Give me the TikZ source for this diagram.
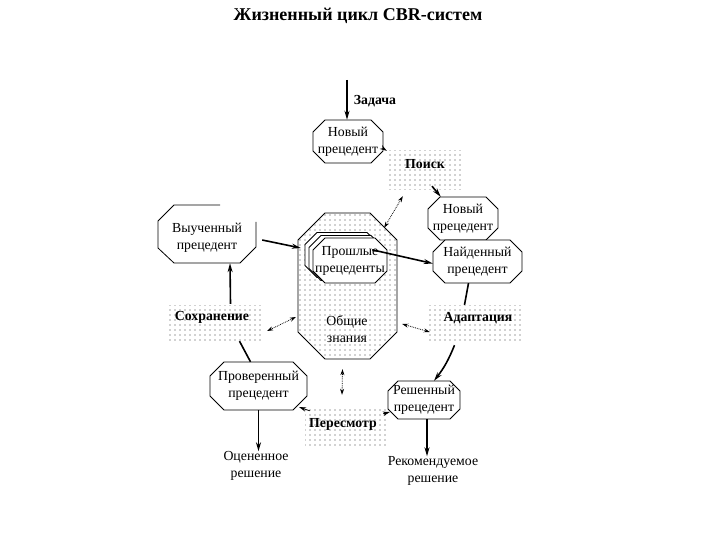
\documentclass[tikz,border=0pt]{standalone}
\usepackage{fontspec}
\setmainfont{Liberation Serif}
\usetikzlibrary{calc,arrows.meta,patterns.meta}
\tikzset{
  octline/.style={line width=0.8pt},
  lbl/.style={font=\fontsize{13.8}{17}\selectfont, align=center, inner sep=0pt},
  blbl/.style={font=\fontsize{13.8}{17}\selectfont\bfseries, inner sep=0pt},
  dotfill/.style={pattern={Dots[distance=5pt,radius=0.65pt]}, pattern color=black!75},
  dotbox/.style={dotfill, draw=none, inner sep=0pt},
  thickarr/.style={line width=1.6pt, -{Stealth[length=9pt,width=5pt]}},
  thickline/.style={line width=1.6pt},
  thinarr/.style={line width=0.8pt, -{Stealth[length=7pt,width=4.5pt]}},
  dotarr/.style={line width=0.8pt, densely dotted, {Stealth[length=6pt,width=4pt]}-{Stealth[length=6pt,width=4pt]}}
}
\newcommand\octo[7]{%
  \draw[octline,fill=white] ({#2-#4/2+#6},{#3-#5/2}) -- ({#2+#4/2-#6},{#3-#5/2}) -- ({#2+#4/2},{#3-#5/2+#6}) -- ({#2+#4/2},{#3+#5/2-#6}) -- ({#2+#4/2-#6},{#3+#5/2}) -- ({#2-#4/2+#6},{#3+#5/2}) -- ({#2-#4/2},{#3+#5/2-#6}) -- ({#2-#4/2},{#3-#5/2+#6}) -- cycle;
  \node[lbl,minimum width=#4pt,minimum height=#5pt] (#1) at (#2,#3) {#7};}
\begin{document}
\begin{tikzpicture}[x=1pt,y=-1pt]
\fill[white] (0,0) rectangle (720,540);
\useasboundingbox (0,0) rectangle (720,540);

% title
\node[font=\fontsize{18}{21}\selectfont\bfseries] (title) at (358,16) {Жизненный цикл CBR-систем};

% knowledge octagon
\draw[octline,dotfill] (325,213) -- (370,213) -- (397,240) -- (397,332) -- (370,359) -- (325,359) -- (298,332) -- (298,240) -- cycle;
\node[lbl, minimum width=99pt, minimum height=146pt] (know) at (347.5,286) {};
\node[lbl] (obshie) at (347,329) {Общие\\знания};

% past cases (stacked)
\octo{pastb}{342}{255}{74}{45}{12}{}
\octo{pastm}{346}{258}{74}{45}{12}{}
\octo{past}{350}{260.5}{74}{45}{12}{Прошлые\\прецеденты}

% dotted process boxes
\node[dotbox, minimum width=76pt, minimum height=39pt] (poisk) at (425,170.5) {};
\node[blbl] (poiskt) at (425,164) {Поиск};
\node[dotbox, minimum width=95pt, minimum height=38pt] (sohr) at (214.5,324) {};
\node[blbl] (sohrt) at (212,317) {Сохранение};
\node[dotbox, minimum width=95pt, minimum height=38pt] (adapt) at (474.5,324) {};
\node[blbl] (adaptt) at (478,318) {Адаптация};
\node[dotbox, minimum width=82pt, minimum height=37pt] (peres) at (346,426.5) {};
\node[blbl] (perest) at (343,424) {Пересмотр};

% octagon nodes
\octo{n1}{348}{141.5}{70}{43}{12}{Новый\\прецедент}
\octo{n2}{463}{218.5}{70}{43}{12}{Новый\\прецедент}
\octo{naid}{477.5}{261.5}{89}{43}{12}{Найденный\\прецедент}
\octo{prov}{258.5}{386}{97}{48}{14}{Проверенный\\прецедент}
\octo{resh}{424}{400}{72}{38}{10}{Решенный\\прецедент}

% learned case (partially drawn outline)
\draw[octline] (220,205) -- (174,205) -- (158,221) -- (158,248) -- (174,263) -- (240,263) -- (256,247) -- (256,222);
\node[lbl, minimum width=98pt, minimum height=50pt] (vyuch) at (207,238) {Выученный\\прецедент};

% input / outputs
\coordinate (zin) at (347,80);
\node[blbl] (zadacha) at (375,101) {Задача};
\node[lbl] (ocen) at (256,466) {Оцененное\\решение};
\node[lbl] (rekom) at (433,471) {Рекомендуемое\\решение};
\coordinate (rs) at ($(resh.south)+(3,0)$);

% connectors
\draw[thickarr] (zin) -- (zin |- n1.north);
\draw[thinarr] ($(n1.east)+(0,7)$) -- (poisk.north west);
\draw[thickarr] ($(poisk.south)+(7,-4)$) -- ($(n2.north west)+(13,0)$);
\draw[dotarr] ($(poisk.south west)+(16,6)$) -- ($(know.north east)+(-13,15)$);
\draw[thickarr] ($(vyuch.east)+(6,2)$) -- ($(know.west)+(3,-38)$);
\draw[thickarr] ($(past.north east)+(-15,12)$) -- ($(naid.west)+(0,2)$);
\draw[thickarr] ($(sohr.north)+(16,-1)$) -- ($(vyuch.south)+(23,0)$);
\draw[dotarr] ($(sohr.east)+(5,7)$) -- ($(know.west)+(-2,31)$);
\draw[thickline] ($(prov.north)+(-8,0)$) -- ($(sohr.south)+(25,-2)$);
\draw[thinarr] ($(peres.north west)+(5,3)$) -- ($(prov.south east)+(-8,-3)$);
\draw[thinarr] ($(peres.north east)+(-4,6)$) -- ($(resh.west)+(2,12)$);
\draw[dotarr] ($(peres.north)+(-4,-13)$) -- ($(know.south)+(-5,10)$);
\draw[thickline] ($(naid.south)+(-9,0)$) -- ($(adapt.north)+(-10,0)$);
\draw[dotarr] ($(adapt.west)+(3,8)$) -- ($(know.east)+(5,38)$);
\draw[thickarr] ($(adapt.south)+(-20,2)$) to[bend left=8] ($(resh.north)+(10,0)$);
\draw[thickarr] (prov.south) -- (prov.south |- ocen.north);
\draw[thickarr] (rs) -- (rs |- rekom.north);
\end{tikzpicture}
\end{document}
